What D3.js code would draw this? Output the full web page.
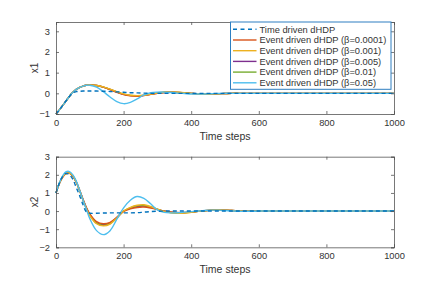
<!DOCTYPE html>
<html><head><meta charset="utf-8">
<script src="https://cdn.jsdelivr.net/npm/d3@7"></script>
<style>body{margin:0;background:#fff}svg{display:block}</style>
</head><body>
<svg id="c" width="436" height="284"></svg>
<script>
// ---- data ----
const steps = [0,10,20,30,40,50,60,70,80,90,100,120,140,160,180,200,220,240,260,280,300,320,340,360,380,400,420,440,460,480,500,520,540,560,580,600,700,800,900,1000];
const seriesNames = ["Time driven dHDP","Event driven dHDP (β=0.0001)","Event driven dHDP (β=0.001)","Event driven dHDP (β=0.005)","Event driven dHDP (β=0.01)","Event driven dHDP (β=0.05)"];
const seriesColors = ["#0072BD","#D95319","#EDB120","#7E2F8E","#77AC30","#4DBEEE"];
const xTicks = [0,200,400,600,800,1000];
const x1Ticks = [-1,0,1,2,3];
const x2Ticks = [-2,-1,0,1,2,3];

// x1 values
const x1Time   = [-1,-0.8,-0.58,-0.36,-0.14,0.02,0.08,0.1,0.11,0.11,0.11,0.11,0.10,0.09,0.07,0.05,0.03,0.02,0.01,0,0,0,0,0,0,0,0,0,0,0,0,0,0,0,0,0,0,0,0,0];
const x1B0001  = [-1,-0.8,-0.58,-0.36,-0.14,0.05,0.19,0.29,0.35,0.39,0.40,0.38,0.30,0.18,0.05,-0.06,-0.12,-0.14,-0.11,-0.05,0.0,0.04,0.05,0.04,0.02,0,-0.02,-0.03,-0.03,-0.02,-0.01,0,0,0,0,0,0,0,0,0];
const x1B001   = [-1,-0.8,-0.58,-0.36,-0.14,0.05,0.19,0.29,0.35,0.39,0.40,0.38,0.31,0.20,0.08,-0.03,-0.09,-0.11,-0.09,-0.04,0.01,0.05,0.06,0.05,0.03,0,-0.02,-0.03,-0.03,-0.02,-0.01,0,0,0,0,0,0,0,0,0];
const x1B005   = [-1,-0.8,-0.58,-0.36,-0.14,0.05,0.19,0.29,0.35,0.39,0.40,0.38,0.30,0.19,0.06,-0.05,-0.11,-0.13,-0.10,-0.05,0.0,0.04,0.05,0.04,0.02,0,-0.02,-0.03,-0.03,-0.02,-0.01,0,0,0,0,0,0,0,0,0];
const x1B01    = [-1,-0.8,-0.58,-0.36,-0.14,0.05,0.19,0.29,0.35,0.39,0.40,0.38,0.30,0.19,0.07,-0.04,-0.10,-0.12,-0.10,-0.04,0.01,0.05,0.05,0.04,0.02,0,-0.02,-0.03,-0.03,-0.02,-0.01,0,0,0,0,0,0,0,0,0];
const x1B05    = [-1,-0.8,-0.58,-0.36,-0.14,0.05,0.19,0.29,0.35,0.39,0.39,0.30,0.08,-0.18,-0.40,-0.50,-0.44,-0.27,-0.08,0.03,0.06,0.06,0.04,0.01,-0.01,-0.03,-0.03,-0.03,-0.02,-0.01,0,0,0,0,0,0,0,0,0,0];

// x2 values
const x2Time   = [1.0,1.55,1.92,2.08,2.0,1.75,1.3,0.85,0.35,-0.05,-0.12,-0.12,-0.11,-0.1,-0.1,-0.1,-0.1,-0.09,-0.06,-0.03,-0.01,0,0,0,0,0,0,0,0,0,0,0,0,0,0,0,0,0,0,0];
const x2B0001  = [1.0,1.52,1.88,2.06,2.08,1.92,1.6,1.15,0.65,0.2,-0.15,-0.58,-0.70,-0.62,-0.35,-0.02,0.12,0.2,0.22,0.17,0.08,0.0,-0.05,-0.08,-0.08,-0.05,-0.02,0.02,0.05,0.06,0.05,0.03,0.01,-0.01,-0.01,0,0,0,0,0];
const x2B001   = [1.0,1.53,1.9,2.08,2.1,1.94,1.6,1.12,0.6,0.12,-0.25,-0.70,-0.82,-0.72,-0.38,0.0,0.2,0.32,0.35,0.25,0.1,-0.02,-0.09,-0.12,-0.11,-0.07,-0.02,0.02,0.05,0.06,0.05,0.03,0.01,-0.01,-0.01,0,0,0,0,0];
const x2B005   = [1.0,1.52,1.89,2.07,2.09,1.93,1.6,1.14,0.63,0.17,-0.19,-0.63,-0.75,-0.66,-0.36,-0.01,0.15,0.25,0.27,0.2,0.09,-0.01,-0.07,-0.1,-0.09,-0.06,-0.02,0.02,0.05,0.06,0.05,0.03,0.01,-0.01,-0.01,0,0,0,0,0];
const x2B01    = [1.0,1.53,1.9,2.07,2.09,1.93,1.6,1.13,0.61,0.14,-0.22,-0.67,-0.79,-0.69,-0.37,0.0,0.18,0.29,0.31,0.23,0.1,-0.02,-0.08,-0.11,-0.1,-0.06,-0.02,0.02,0.05,0.06,0.05,0.03,0.01,-0.01,-0.01,0,0,0,0,0];
const x2B05    = [1.0,1.55,1.95,2.17,2.18,2.0,1.65,1.15,0.6,0.08,-0.42,-1.08,-1.30,-1.08,-0.45,0.18,0.60,0.80,0.70,0.40,0.07,-0.07,-0.10,-0.09,-0.06,-0.03,0,0.03,0.05,0.05,0.03,0.01,-0.01,-0.02,-0.01,0,0,0,0,0];

const x1Series = [x1Time,x1B0001,x1B001,x1B005,x1B01,x1B05];
const x2Series = [x2Time,x2B0001,x2B001,x2B005,x2B01,x2B05];

// ---- drawing ----
const svg = d3.select("#c");
const font = "'Liberation Sans', Arial, Helvetica, sans-serif";
const axisColor = "#555";
const textColor = "#333";
const left = 56, right = 394;
const drawOrder = [3,4,1,2,5,0];

function panel(top, bottom, yDomain, yTicks, series, ylabel) {
  const x = d3.scaleLinear().domain([0,1000]).range([left,right]);
  const y = d3.scaleLinear().domain(yDomain).range([bottom,top]);
  const g = svg.append("g");
  const line = d3.line().x((d,i)=>x(steps[i])).y(d=>y(d)).curve(d3.curveCatmullRom.alpha(0.5));
  drawOrder.forEach(k=>{
    g.append("path").datum(series[k])
      .attr("d", line).attr("fill","none")
      .attr("stroke", seriesColors[k]).attr("stroke-width",1.4)
      .attr("stroke-dasharray", k===0 ? "4,3" : null);
  });
  const fmt = d3.format("d");
  const axB = d3.axisBottom(x).tickValues(xTicks).tickSize(-3).tickPadding(5).tickFormat(fmt);
  const axT = d3.axisTop(x).tickValues(xTicks).tickSize(-3).tickFormat("");
  const axL = d3.axisLeft(y).tickValues(yTicks).tickSize(-3).tickPadding(6).tickFormat(fmt);
  const axR = d3.axisRight(y).tickValues(yTicks).tickSize(-3).tickFormat("");
  [[axB,`translate(0,${bottom})`],[axT,`translate(0,${top})`],[axL,`translate(${left},0)`],[axR,`translate(${right},0)`]].forEach(([a,t])=>{
    const ag = g.append("g").attr("transform",t).call(a);
    ag.select(".domain").attr("stroke",axisColor).attr("stroke-width",0.8);
    ag.selectAll(".tick line").attr("stroke",axisColor).attr("stroke-width",0.8);
    ag.selectAll(".tick text").attr("fill",textColor).style("font-family",font).style("font-size","9.3px");
  });
  g.append("text").attr("x",(left+right)/2).attr("y",bottom+26).attr("text-anchor","middle")
    .attr("fill",textColor).style("font-family",font).style("font-size","10.5px").text("Time steps");
  g.append("text").attr("transform",`translate(38,${(top+bottom)/2}) rotate(-90)`).attr("text-anchor","middle")
    .attr("fill",textColor).style("font-family",font).style("font-size","10px").text(ylabel);
}

panel(22, 114, [-1,3.45], x1Ticks, x1Series, "x1");
panel(156.7, 247.3, [-2,3], x2Ticks, x2Series, "x2");

// legend
const lg = svg.append("g");
lg.append("rect").attr("x",230.5).attr("y",22).attr("width",160.5).attr("height",67.3)
  .attr("fill","#fff").attr("stroke","#2f7fc1").attr("stroke-width",1);
seriesNames.forEach((n,i)=>{
  const cy = 29.3 + i*10.7;
  lg.append("line").attr("x1",233).attr("x2",256.5).attr("y1",cy).attr("y2",cy)
    .attr("stroke",seriesColors[i]).attr("stroke-width",1.4)
    .attr("stroke-dasharray", i===0 ? "4,3.5" : null);
  lg.append("text").attr("x",259.5).attr("y",cy+3.3).attr("fill",textColor)
    .style("font-family",font).style("font-size","9.3px").text(n);
});
</script>
</body></html>
